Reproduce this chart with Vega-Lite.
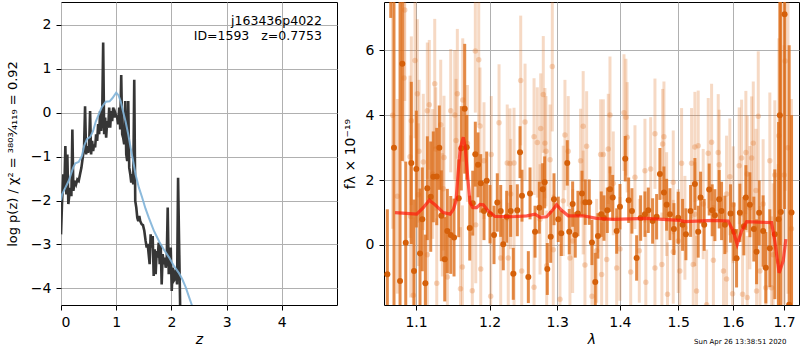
{
  "$schema": "https://vega.github.io/schema/vega-lite/v6.json",
  "padding": {"left": 5, "top": 1, "right": 0, "bottom": 0},
  "spacing": 4,
  "background": "white",
  "config": {
    "font": "DejaVu Sans",
    "view": {"stroke": "black", "strokeWidth": 1},
    "axis": {
      "domain": false, "grid": true, "gridColor": "#b0b0b0", "gridWidth": 1,
      "tickColor": "black", "tickSize": 5, "labelPadding": 5, "labelFontSize": 14,
      "labelColor": "black", "titleFontSize": 14, "titleFontWeight": "normal", "titleColor": "black",
      "labelFont": "DejaVu Sans", "titleFont": "DejaVu Sans"
    }
  },
  "datasets": {
    "pz": [
      {"z":0,"lp":-2.77},{"z":0.018,"lp":-2.08},{"z":0.042,"lp":-1.40},{"z":0.061,"lp":-1.71},{"z":0.079,"lp":-0.76},{"z":0.097,"lp":-1.86},{"z":0.115,"lp":-0.95},{"z":0.133,"lp":-2.08},{"z":0.152,"lp":-1.86},{"z":0.170,"lp":-1.71},{"z":0.188,"lp":-1.90},{"z":0.206,"lp":-0.38},{"z":0.224,"lp":-1.78},{"z":0.248,"lp":-1.55},{"z":0.273,"lp":-1.63},{"z":0.297,"lp":-1.52},{"z":0.321,"lp":-1.55},{"z":0.345,"lp":-1.40},{"z":0.370,"lp":-1.25},{"z":0.394,"lp":-1.02},{"z":0.418,"lp":-0.79},{"z":0.436,"lp":0.15},{"z":0.455,"lp":-0.95},{"z":0.473,"lp":-0.76},{"z":0.491,"lp":-0.91},{"z":0.509,"lp":-0.79},{"z":0.527,"lp":0.04},{"z":0.545,"lp":-0.95},{"z":0.564,"lp":-0.64},{"z":0.582,"lp":-0.87},{"z":0.600,"lp":-0.72},{"z":0.618,"lp":-0.79},{"z":0.636,"lp":-0.49},{"z":0.655,"lp":-0.64},{"z":0.673,"lp":-0.26},{"z":0.691,"lp":-0.49},{"z":0.709,"lp":0.04},{"z":0.727,"lp":-0.41},{"z":0.745,"lp":-0.19},{"z":0.764,"lp":1.60},{"z":0.782,"lp":-0.49},{"z":0.800,"lp":-0.11},{"z":0.818,"lp":-0.57},{"z":0.836,"lp":-0.19},{"z":0.855,"lp":-0.34},{"z":0.873,"lp":0.12},{"z":0.891,"lp":-0.34},{"z":0.909,"lp":0.04},{"z":0.927,"lp":-0.19},{"z":0.945,"lp":0.12},{"z":0.964,"lp":-0.11},{"z":0.982,"lp":0.00},{"z":1.000,"lp":-0.07},{"z":1.018,"lp":-0.11},{"z":1.036,"lp":-0.26},{"z":1.055,"lp":0.12},{"z":1.073,"lp":-0.38},{"z":1.091,"lp":0.86},{"z":1.109,"lp":-0.49},{"z":1.127,"lp":-0.57},{"z":1.145,"lp":-0.72},{"z":1.164,"lp":0.27},{"z":1.182,"lp":-0.95},{"z":1.200,"lp":-1.10},{"z":1.218,"lp":0.27},{"z":1.236,"lp":-1.25},{"z":1.255,"lp":-1.40},{"z":1.273,"lp":-1.59},{"z":1.291,"lp":-1.40},{"z":1.309,"lp":-1.63},{"z":1.327,"lp":0.75},{"z":1.345,"lp":-2.01},{"z":1.364,"lp":-2.16},{"z":1.382,"lp":-2.39},{"z":1.400,"lp":-2.47},{"z":1.418,"lp":-2.35},{"z":1.436,"lp":-2.47},{"z":1.461,"lp":-2.54},{"z":1.485,"lp":-2.56},{"z":1.509,"lp":-2.69},{"z":1.533,"lp":-2.92},{"z":1.552,"lp":-3.07},{"z":1.570,"lp":-2.99},{"z":1.588,"lp":-3.22},{"z":1.606,"lp":-3.45},{"z":1.624,"lp":-2.77},{"z":1.642,"lp":-3.07},{"z":1.661,"lp":-2.81},{"z":1.679,"lp":-3.72},{"z":1.697,"lp":-3.11},{"z":1.715,"lp":-3.68},{"z":1.733,"lp":-3.15},{"z":1.752,"lp":-3.30},{"z":1.770,"lp":-2.96},{"z":1.788,"lp":-3.45},{"z":1.806,"lp":-3.00},{"z":1.824,"lp":-3.91},{"z":1.842,"lp":-3.22},{"z":1.861,"lp":-3.45},{"z":1.879,"lp":-3.30},{"z":1.897,"lp":-3.53},{"z":1.915,"lp":-3.38},{"z":1.933,"lp":-2.16},{"z":1.952,"lp":-3.68},{"z":1.970,"lp":-3.22},{"z":1.988,"lp":-3.07},{"z":2.006,"lp":-4.06},{"z":2.024,"lp":-3.53},{"z":2.042,"lp":-3.83},{"z":2.061,"lp":-3.79},{"z":2.079,"lp":-3.57},{"z":2.103,"lp":-3.91},{"z":2.121,"lp":-1.48},{"z":2.139,"lp":-2.92},{"z":2.158,"lp":-4.38},{"z":2.176,"lp":-5.05}
    ],
    "pzs": [
      {"z":0,"lp":-2.0},{"z":0.02,"lp":-1.86},{"z":0.14,"lp":-1.55},{"z":0.22,"lp":-1.25},{"z":0.26,"lp":-1.15},{"z":0.32,"lp":-1.12},{"z":0.38,"lp":-0.98},{"z":0.42,"lp":-0.75},{"z":0.47,"lp":-0.6},{"z":0.53,"lp":-0.55},{"z":0.58,"lp":-0.42},{"z":0.63,"lp":-0.2},{"z":0.68,"lp":-0.05},{"z":0.74,"lp":0.13},{"z":0.81,"lp":0.25},{"z":0.88,"lp":0.26},{"z":0.93,"lp":0.33},{"z":1.0,"lp":0.46},{"z":1.04,"lp":0.4},{"z":1.08,"lp":0.27},{"z":1.12,"lp":0.05},{"z":1.17,"lp":-0.2},{"z":1.22,"lp":-0.5},{"z":1.26,"lp":-0.79},{"z":1.31,"lp":-1.12},{"z":1.35,"lp":-1.4},{"z":1.41,"lp":-1.7},{"z":1.47,"lp":-1.93},{"z":1.53,"lp":-2.18},{"z":1.59,"lp":-2.39},{"z":1.68,"lp":-2.68},{"z":1.78,"lp":-2.94},{"z":1.87,"lp":-3.13},{"z":1.96,"lp":-3.30},{"z":2.05,"lp":-3.5},{"z":2.14,"lp":-3.66},{"z":2.2,"lp":-3.8},{"z":2.26,"lp":-3.98},{"z":2.32,"lp":-4.2},{"z":2.37,"lp":-4.38},{"z":2.45,"lp":-4.7}
    ],
    "ann": [
      {"z":4.728,"lp":2.0,"label":"j163436p4022"},
      {"z":4.728,"lp":1.647,"label":"ID=1593\u00a0\u00a0\u00a0z=0.7753"}
    ],
    "dark": [
      {"lam":1.0633,"f":-0.9,"e":2.0},{"lam":1.0676,"f":10,"e":3},{"lam":1.0717,"f":3,"e":8},{"lam":1.0794,"f":-1.11,"e":9},{"lam":1.0823,"f":5.59,"e":3},{"lam":1.0867,"f":0.07,"e":2.5},{"lam":1.0939,"f":2.53,"e":2.5},{"lam":1.0974,"f":-0.80,"e":2.2},{"lam":1.1004,"f":2.34,"e":1.8},{"lam":1.1052,"f":-0.26,"e":2.0},{"lam":1.1082,"f":0.79,"e":1.6},{"lam":1.1122,"f":-1.18,"e":1.5},{"lam":1.1148,"f":1.75,"e":1.6},{"lam":1.1193,"f":1.49,"e":1.7},{"lam":1.1227,"f":2.10,"e":1.4},{"lam":1.1273,"f":2.11,"e":1.5},{"lam":1.1307,"f":3.00,"e":1.3},{"lam":1.1334,"f":0.90,"e":1.4},{"lam":1.1380,"f":-0.44,"e":1.3},{"lam":1.1415,"f":0.43,"e":1.3},{"lam":1.1461,"f":0.31,"e":1.2},{"lam":1.1506,"f":0.23,"e":1.2},{"lam":1.1570,"f":1.44,"e":1.2},{"lam":1.1605,"f":2.98,"e":1.3},{"lam":1.1652,"f":4.20,"e":2.0},{"lam":1.1680,"f":3.01,"e":1.0},{"lam":1.1722,"f":0.52,"e":1.0},{"lam":1.1763,"f":1.29,"e":1.0},{"lam":1.1799,"f":2.80,"e":1.0},{"lam":1.1837,"f":2.47,"e":1.0},{"lam":1.1875,"f":1.90,"e":0.9},{"lam":1.1921,"f":1.05,"e":0.9},{"lam":1.1959,"f":1.98,"e":0.9},{"lam":1.2006,"f":0.95,"e":0.9},{"lam":1.2063,"f":0.31,"e":0.9},{"lam":1.2110,"f":1.31,"e":0.9},{"lam":1.2159,"f":1.05,"e":0.8},{"lam":1.2196,"f":0.02,"e":0.8},{"lam":1.2245,"f":0.87,"e":0.8},{"lam":1.2303,"f":1.05,"e":0.8},{"lam":1.2341,"f":-0.89,"e":0.8},{"lam":1.2400,"f":1.07,"e":0.8},{"lam":1.2440,"f":2.86,"e":0.8},{"lam":1.2469,"f":1.52,"e":0.8},{"lam":1.2563,"f":-0.99,"e":0.8},{"lam":1.2588,"f":1.59,"e":0.8},{"lam":1.2663,"f":0.41,"e":0.8},{"lam":1.2727,"f":1.15,"e":0.8},{"lam":1.2778,"f":1.72,"e":0.8},{"lam":1.2808,"f":1.93,"e":0.8},{"lam":1.2848,"f":-0.74,"e":0.8},{"lam":1.2900,"f":0.25,"e":0.8},{"lam":1.2950,"f":1.41,"e":0.8},{"lam":1.3016,"f":0.79,"e":0.7},{"lam":1.3062,"f":0.36,"e":0.7},{"lam":1.3155,"f":2.53,"e":0.7},{"lam":1.3186,"f":0.41,"e":0.7},{"lam":1.3239,"f":1.26,"e":0.7},{"lam":1.3280,"f":0.31,"e":0.7},{"lam":1.3322,"f":0.97,"e":0.7},{"lam":1.3386,"f":1.59,"e":0.7},{"lam":1.3438,"f":1.32,"e":0.7},{"lam":1.3502,"f":1.32,"e":0.7},{"lam":1.3545,"f":0.08,"e":0.7},{"lam":1.3598,"f":-1.14,"e":0.9},{"lam":1.3641,"f":0.28,"e":0.7},{"lam":1.3695,"f":0.95,"e":0.7},{"lam":1.3739,"f":0.83,"e":0.7},{"lam":1.3793,"f":1.07,"e":0.7},{"lam":1.3837,"f":1.72,"e":0.7},{"lam":1.3881,"f":1.46,"e":0.7},{"lam":1.3947,"f":0.43,"e":0.7},{"lam":1.4001,"f":1.18,"e":0.7},{"lam":1.4089,"f":2.66,"e":0.7},{"lam":1.4146,"f":1.38,"e":0.7},{"lam":1.4201,"f":1.05,"e":0.7},{"lam":1.4280,"f":-0.40,"e":0.7},{"lam":1.4348,"f":0.83,"e":0.7},{"lam":1.4421,"f":0.95,"e":0.7},{"lam":1.4478,"f":1.07,"e":0.7},{"lam":1.4553,"f":0.74,"e":0.7},{"lam":1.4622,"f":0.87,"e":0.7},{"lam":1.4679,"f":2.19,"e":0.8},{"lam":1.4749,"f":1.62,"e":0.8},{"lam":1.4796,"f":1.24,"e":0.8},{"lam":1.4854,"f":0.95,"e":0.8},{"lam":1.4924,"f":0.49,"e":0.8},{"lam":1.5000,"f":0.84,"e":0.8},{"lam":1.5078,"f":0.62,"e":0.8},{"lam":1.5137,"f":0.33,"e":0.8},{"lam":1.5221,"f":1.05,"e":0.8},{"lam":1.5299,"f":1.88,"e":0.8},{"lam":1.5359,"f":0.41,"e":0.8},{"lam":1.5402,"f":1.46,"e":0.8},{"lam":1.5468,"f":0.62,"e":0.8},{"lam":1.5560,"f":1.71,"e":0.8},{"lam":1.5615,"f":1.07,"e":0.8},{"lam":1.5665,"f":0.92,"e":0.8},{"lam":1.5745,"f":1.41,"e":0.9},{"lam":1.5789,"f":1.05,"e":0.9},{"lam":1.5851,"f":0.62,"e":0.9},{"lam":1.5958,"f":0.97,"e":0.9},{"lam":1.6021,"f":0.41,"e":0.9},{"lam":1.6072,"f":-0.41,"e":0.9},{"lam":1.6135,"f":0.99,"e":0.9},{"lam":1.6211,"f":0.58,"e":0.9},{"lam":1.6250,"f":1.46,"e":1.0},{"lam":1.6327,"f":1.24,"e":1.0},{"lam":1.6404,"f":0.49,"e":1.0},{"lam":1.6457,"f":-0.21,"e":1.0},{"lam":1.6507,"f":0.99,"e":1.0},{"lam":1.6585,"f":0.43,"e":1.1},{"lam":1.6638,"f":-0.70,"e":1.1},{"lam":1.6717,"f":-0.10,"e":1.2},{"lam":1.6816,"f":0.33,"e":2.0},{"lam":1.6890,"f":0.79,"e":3.0},{"lam":1.6916,"f":4,"e":4},{"lam":1.6936,"f":1.02,"e":8},{"lam":1.7011,"f":7.11,"e":6},{"lam":1.7104,"f":-1.84,"e":8},{"lam":1.7152,"f":1.0,"e":3.0}
    ],
    "light": [
      {"lam":1.0700,"f":4.0,"e":3.5},{"lam":1.0760,"f":1.5,"e":3.0},{"lam":1.0854,"f":7.24,"e":2.8},{"lam":1.0845,"f":5.15,"e":2.6},{"lam":1.0987,"f":5.69,"e":2.4},{"lam":1.1017,"f":4.66,"e":2.3},{"lam":1.0939,"f":3.83,"e":2.6},{"lam":1.0922,"f":2.72,"e":2.5},{"lam":1.1039,"f":2.89,"e":2.2},{"lam":1.1030,"f":1.55,"e":2.2},{"lam":1.1095,"f":2.56,"e":2.1},{"lam":1.1148,"f":4.14,"e":2.1},{"lam":1.1174,"f":4.32,"e":2.0},{"lam":1.1246,"f":4.97,"e":2.0},{"lam":1.1219,"f":2.19,"e":2.0},{"lam":1.1259,"f":2.96,"e":1.9},{"lam":1.1326,"f":3.71,"e":2.0},{"lam":1.1361,"f":1.73,"e":1.9},{"lam":1.1370,"f":2.70,"e":1.9},{"lam":1.1461,"f":4.14,"e":1.9},{"lam":1.1515,"f":4.01,"e":2.0},{"lam":1.1551,"f":4.66,"e":2.0},{"lam":1.1533,"f":3.22,"e":1.9},{"lam":1.1625,"f":4.47,"e":1.9},{"lam":1.1689,"f":3.13,"e":1.8},{"lam":1.1799,"f":5.98,"e":1.9},{"lam":1.1847,"f":5.71,"e":2.0},{"lam":1.1865,"f":3.67,"e":1.8},{"lam":1.1921,"f":2.60,"e":1.8},{"lam":1.2024,"f":2.79,"e":1.8},{"lam":1.2135,"f":3.77,"e":1.8},{"lam":1.2253,"f":2.53,"e":1.8},{"lam":1.2293,"f":2.51,"e":1.7},{"lam":1.2352,"f":2.53,"e":1.7},{"lam":1.2450,"f":5.07,"e":2.0},{"lam":1.2303,"f":1.57,"e":1.7},{"lam":1.1805,"f":0.62,"e":1.8},{"lam":1.1620,"f":-0.68,"e":1.9},{"lam":1.1875,"f":-0.74,"e":1.8},{"lam":1.2159,"f":-0.40,"e":1.8},{"lam":1.2268,"f":-0.40,"e":1.7},{"lam":1.2352,"f":-0.88,"e":1.7},{"lam":1.1594,"f":-1.35,"e":1.9},{"lam":1.1757,"f":-1.41,"e":1.8},{"lam":1.2016,"f":-1.58,"e":1.8},{"lam":1.1273,"f":-1.18,"e":2.0},{"lam":1.0965,"f":-1.55,"e":2.4},{"lam":1.1148,"f":-0.30,"e":2.1},{"lam":1.1415,"f":-0.99,"e":1.9},{"lam":1.1348,"f":0.93,"e":1.9},{"lam":1.0931,"f":0.88,"e":2.5},{"lam":1.2514,"f":3.79,"e":1.8},{"lam":1.2648,"f":3.34,"e":1.8},{"lam":1.2697,"f":3.16,"e":1.7},{"lam":1.2787,"f":4.64,"e":1.8},{"lam":1.2748,"f":3.59,"e":1.7},{"lam":1.2812,"f":3.14,"e":1.7},{"lam":1.2828,"f":2.89,"e":1.7},{"lam":1.2924,"f":5.50,"e":2.0},{"lam":1.2890,"f":2.63,"e":1.7},{"lam":1.3119,"f":3.39,"e":1.7},{"lam":1.3170,"f":2.89,"e":1.7},{"lam":1.3405,"f":3.66,"e":1.7},{"lam":1.3460,"f":3.04,"e":1.7},{"lam":1.3364,"f":2.60,"e":1.6},{"lam":1.3685,"f":2.79,"e":1.7},{"lam":1.3728,"f":2.79,"e":1.7},{"lam":1.3809,"f":2.96,"e":1.7},{"lam":1.3837,"f":4.01,"e":1.8},{"lam":1.4068,"f":4.08,"e":1.8},{"lam":1.4100,"f":3.94,"e":1.8},{"lam":1.4121,"f":3.32,"e":1.7},{"lam":1.4593,"f":3.43,"e":1.7},{"lam":1.4421,"f":2.29,"e":1.6},{"lam":1.4519,"f":2.34,"e":1.6},{"lam":1.4252,"f":2.09,"e":1.6},{"lam":1.2465,"f":-0.80,"e":1.7},{"lam":1.2648,"f":-1.30,"e":1.7},{"lam":1.2839,"f":-0.64,"e":1.7},{"lam":1.3042,"f":-1.67,"e":1.7},{"lam":1.3197,"f":-0.40,"e":1.6},{"lam":1.3433,"f":-0.62,"e":1.6},{"lam":1.3545,"f":-1.58,"e":1.7},{"lam":1.3701,"f":-0.91,"e":1.6},{"lam":1.3783,"f":-0.45,"e":1.6},{"lam":1.3947,"f":-0.71,"e":1.6},{"lam":1.4180,"f":-0.83,"e":1.6},{"lam":1.4325,"f":-0.18,"e":1.6},{"lam":1.4436,"f":-1.15,"e":1.6},{"lam":1.4593,"f":-0.71,"e":1.6},{"lam":1.3239,"f":0.12,"e":1.6},{"lam":1.3620,"f":-0.18,"e":1.6},{"lam":1.4001,"f":-0.12,"e":1.6},{"lam":1.2939,"f":-0.15,"e":1.7},{"lam":1.2738,"f":0.79,"e":1.7},{"lam":1.3093,"f":1.36,"e":1.7},{"lam":1.3405,"f":1.31,"e":1.6},{"lam":1.3891,"f":1.90,"e":1.6},{"lam":1.4726,"f":3.11,"e":1.7},{"lam":1.4749,"f":3.34,"e":1.7},{"lam":1.4912,"f":1.93,"e":1.6},{"lam":1.5060,"f":2.52,"e":1.7},{"lam":1.5239,"f":2.52,"e":1.7},{"lam":1.5299,"f":3.02,"e":1.7},{"lam":1.5359,"f":3.06,"e":1.7},{"lam":1.5542,"f":2.83,"e":1.7},{"lam":1.5604,"f":3.17,"e":1.8},{"lam":1.5727,"f":2.85,"e":1.8},{"lam":1.5745,"f":2.47,"e":1.7},{"lam":1.5945,"f":2.10,"e":1.8},{"lam":1.6122,"f":2.44,"e":1.8},{"lam":1.6168,"f":2.68,"e":1.8},{"lam":1.6250,"f":2.85,"e":1.9},{"lam":1.6276,"f":2.19,"e":1.8},{"lam":1.6361,"f":2.68,"e":1.9},{"lam":1.6393,"f":3.14,"e":1.9},{"lam":1.6490,"f":3.97,"e":2.0},{"lam":1.6445,"f":1.68,"e":1.9},{"lam":1.6717,"f":2.60,"e":2.1},{"lam":1.6816,"f":2.16,"e":2.3},{"lam":1.6896,"f":3.37,"e":3.0},{"lam":1.7003,"f":2.16,"e":4.0},{"lam":1.7023,"f":5.67,"e":4.0},{"lam":1.7080,"f":3.0,"e":4.5},{"lam":1.7150,"f":0.5,"e":4.0},{"lam":1.4796,"f":1.26,"e":1.6},{"lam":1.5000,"f":0.12,"e":1.6},{"lam":1.5119,"f":0.53,"e":1.6},{"lam":1.5299,"f":0.95,"e":1.6},{"lam":1.5450,"f":1.26,"e":1.7},{"lam":1.5883,"f":1.57,"e":1.8},{"lam":1.6008,"f":1.24,"e":1.8},{"lam":1.6327,"f":1.15,"e":1.9},{"lam":1.6585,"f":1.26,"e":2.0},{"lam":1.4912,"f":-0.21,"e":1.6},{"lam":1.5029,"f":-0.80,"e":1.6},{"lam":1.5269,"f":-0.60,"e":1.6},{"lam":1.5329,"f":-1.42,"e":1.7},{"lam":1.5513,"f":-1.84,"e":1.7},{"lam":1.5637,"f":-0.47,"e":1.7},{"lam":1.5825,"f":-0.80,"e":1.8},{"lam":1.5883,"f":-1.05,"e":1.8},{"lam":1.5996,"f":-1.50,"e":1.8},{"lam":1.6187,"f":-1.52,"e":1.9},{"lam":1.6276,"f":-1.62,"e":1.9},{"lam":1.6457,"f":-1.42,"e":2.0},{"lam":1.6523,"f":-0.80,"e":2.0},{"lam":1.6638,"f":-1.32,"e":2.0},{"lam":1.6751,"f":-1.32,"e":2.2},{"lam":1.6783,"f":-0.30,"e":2.2},{"lam":1.6883,"f":-0.51,"e":3.0},{"lam":1.4713,"f":-0.60,"e":1.6},{"lam":1.4811,"f":-1.52,"e":1.6}
    ],
    "model": [
      {"lam":1.0730,"f":1.0},{"lam":1.1009,"f":0.95},{"lam":1.1095,"f":1.15},{"lam":1.1174,"f":1.38},{"lam":1.1250,"f":1.24},{"lam":1.1361,"f":1.0},{"lam":1.1452,"f":0.95},{"lam":1.1497,"f":1.1},{"lam":1.1533,"f":1.36},{"lam":1.1561,"f":2.2},{"lam":1.1592,"f":3.0},{"lam":1.1633,"f":3.32},{"lam":1.1660,"f":3.0},{"lam":1.1689,"f":2.2},{"lam":1.1726,"f":1.3},{"lam":1.1763,"f":1.15},{"lam":1.1818,"f":1.15},{"lam":1.1865,"f":1.25},{"lam":1.1911,"f":1.24},{"lam":1.1981,"f":1.05},{"lam":1.2077,"f":0.88},{"lam":1.2341,"f":0.87},{"lam":1.2539,"f":0.9},{"lam":1.2663,"f":0.95},{"lam":1.2738,"f":0.85},{"lam":1.2839,"f":0.87},{"lam":1.2939,"f":1.1},{"lam":1.2990,"f":1.24},{"lam":1.3067,"f":1.07},{"lam":1.3170,"f":0.9},{"lam":1.3405,"f":0.9},{"lam":1.3620,"f":0.82},{"lam":1.3891,"f":0.79},{"lam":1.4447,"f":0.82},{"lam":1.5029,"f":0.76},{"lam":1.5119,"f":0.72},{"lam":1.5637,"f":0.76},{"lam":1.5914,"f":0.74},{"lam":1.6008,"f":0.43},{"lam":1.6084,"f":0.02},{"lam":1.6168,"f":0.43},{"lam":1.6264,"f":0.72},{"lam":1.6751,"f":0.69},{"lam":1.6816,"f":0.12},{"lam":1.6902,"f":-0.86},{"lam":1.6984,"f":-0.49},{"lam":1.7037,"f":0.18}
    ],
    "stamp": [{"lam":1.705,"f":-3.06,"label":"Sun Apr 26 13:38:51 2020"}]
  },
  "hconcat": [
    {
      "width": 276,
      "height": 303,
      "layer": [
        {
          "data": {"name": "pz"},
          "mark": {"type": "line", "color": "#363636", "strokeWidth": 2.6, "clip": true},
          "encoding": {
            "x": {"field": "z", "type": "quantitative", "title": "z",
                  "scale": {"domain": [0, 5], "nice": false, "zero": false},
                  "axis": {"values": [0, 1, 2, 3, 4], "format": "d", "titleFontStyle": "italic", "titlePadding": 3}},
            "y": {"field": "lp", "type": "quantitative", "title": "log p(z) / χ² = ³⁸⁰³⁄₄₁₁₉ = 0.92",
                  "scale": {"domain": [-4.38, 2.524], "nice": false, "zero": false},
                  "axis": {"values": [-4, -3, -2, -1, 0, 1, 2], "format": "d", "titleFontSize": 13, "minExtent": 31, "maxExtent": 31, "titlePadding": 11}}
          }
        },
        {
          "data": {"name": "pzs"},
          "mark": {"type": "line", "color": "#7fb2d8", "strokeWidth": 2, "opacity": 0.9, "clip": true},
          "encoding": {
            "x": {"field": "z", "type": "quantitative", "title": "z"},
            "y": {"field": "lp", "type": "quantitative", "title": "log p(z) / χ² = ³⁸⁰³⁄₄₁₁₉ = 0.92"}
          }
        },
        {
          "data": {"name": "ann"},
          "mark": {"type": "text", "align": "right", "baseline": "alphabetic", "fontSize": 12.5, "color": "black"},
          "encoding": {
            "x": {"field": "z", "type": "quantitative", "title": "z"},
            "y": {"field": "lp", "type": "quantitative", "title": "log p(z) / χ² = ³⁸⁰³⁄₄₁₁₉ = 0.92"},
            "text": {"field": "label"}
          }
        }
      ]
    },
    {
      "width": 415,
      "height": 303,
      "layer": [
        {
          "data": {"name": "light"},
          "mark": {"type": "errorbar", "thickness": 3, "color": "#e0782c", "opacity": 0.28, "clip": true},
          "encoding": {
            "x": {"field": "lam", "type": "quantitative", "title": "λ",
                  "scale": {"type": "log", "domain": [1.0591, 1.7304], "nice": false, "zero": false},
                  "axis": {"values": [1.1, 1.2, 1.3, 1.4, 1.5, 1.6, 1.7], "format": ".1f", "titleFontStyle": "italic", "titlePadding": 3}},
            "y": {"field": "f", "type": "quantitative", "title": "fλ × 10⁻¹⁹",
                  "scale": {"domain": [-1.85, 7.49], "nice": false, "zero": false},
                  "axis": {"values": [0, 2, 4, 6], "format": "d", "minExtent": 19, "maxExtent": 19, "titlePadding": 8}},
            "yError": {"field": "e"}
          }
        },
        {
          "data": {"name": "light"},
          "mark": {"type": "point", "filled": true, "size": 30, "color": "#e0782c", "opacity": 0.3, "clip": true},
          "encoding": {
            "x": {"field": "lam", "type": "quantitative", "title": "λ"},
            "y": {"field": "f", "type": "quantitative", "title": "fλ × 10⁻¹⁹"}
          }
        },
        {
          "data": {"name": "dark"},
          "mark": {"type": "errorbar", "thickness": 3, "color": "#dd6a14", "opacity": 0.78, "clip": true},
          "encoding": {
            "x": {"field": "lam", "type": "quantitative", "title": "λ"},
            "y": {"field": "f", "type": "quantitative", "title": "fλ × 10⁻¹⁹"},
            "yError": {"field": "e"}
          }
        },
        {
          "data": {"name": "dark"},
          "mark": {"type": "point", "filled": true, "size": 36, "color": "#d5600a", "opacity": 1, "clip": true},
          "encoding": {
            "x": {"field": "lam", "type": "quantitative", "title": "λ"},
            "y": {"field": "f", "type": "quantitative", "title": "fλ × 10⁻¹⁹"}
          }
        },
        {
          "data": {"name": "model"},
          "mark": {"type": "line", "color": "#ff1a0a", "strokeWidth": 3.2, "opacity": 0.7, "clip": true},
          "encoding": {
            "x": {"field": "lam", "type": "quantitative", "title": "λ"},
            "y": {"field": "f", "type": "quantitative", "title": "fλ × 10⁻¹⁹"}
          }
        },
        {
          "mark": {"type": "rule", "color": "#111111", "strokeWidth": 2, "strokeDash": [2, 3]},
          "encoding": {"y": {"datum": 0, "type": "quantitative", "title": "fλ × 10⁻¹⁹"}}
        },
        {
          "data": {"name": "stamp"},
          "mark": {"type": "text", "align": "right", "baseline": "alphabetic", "fontSize": 7, "color": "black"},
          "encoding": {
            "x": {"field": "lam", "type": "quantitative", "title": "λ"},
            "y": {"field": "f", "type": "quantitative", "title": "fλ × 10⁻¹⁹"},
            "text": {"field": "label"}
          }
        }
      ]
    }
  ]
}
